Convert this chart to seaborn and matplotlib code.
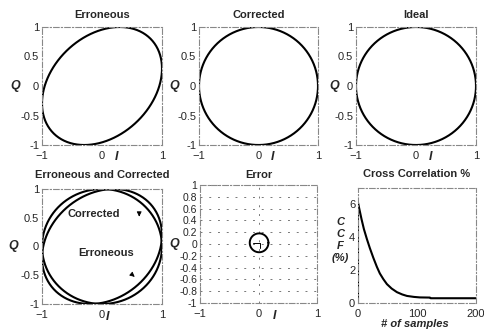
import numpy as np
import matplotlib
matplotlib.use('Agg')
import matplotlib.pyplot as plt
import seaborn as sns
from matplotlib.ticker import FormatStrFormatter

# values
phase_err_top = 0.30      # rad, erroneous constellation (top left)
phase_err_overlay = 0.20  # rad, erroneous trace in the overlay panel
err_radius = 0.16
err_center = [0.01, 0.02]

# small residual trace inside the error circle
err_trace_i = [-0.10, 0.03, 0.03]
err_trace_q = [0.02, 0.02, -0.07]

# cross correlation curve
ccf_samples = [0, 0, 3, 6, 10, 15, 20, 26, 32, 37, 43, 49, 57, 66, 75, 83, 95, 105, 122, 123, 150, 200]
ccf_pct = [0, 6.1, 5.6, 5.1, 4.5, 3.9, 3.35, 2.75, 2.2, 1.8, 1.45, 1.15, 0.88, 0.66, 0.52, 0.43,
           0.37, 0.34, 0.33, 0.29, 0.29, 0.29]

titles = ['Erroneous', 'Corrected', 'Ideal', 'Erroneous and Corrected', 'Error', 'Cross Correlation %']
iq_xticks = [-1, 0, 1]
iq_yticks = [-1, -0.5, 0, 0.5, 1]
err_yticks = [-1, -0.8, -0.6, -0.4, -0.2, 0, 0.2, 0.4, 0.6, 0.8, 1]
ccf_xticks = [0, 100, 200]
ccf_yticks = [0, 2, 4, 6]

sns.set_style('white')
plt.rcParams['font.family'] = ['Liberation Sans', 'DejaVu Sans']

t = np.linspace(0, 2 * np.pi, 400)

def iq(phase, r=1.0, c=(0, 0)):
    return c[0] + r * np.cos(t), c[1] + r * np.sin(t + phase)

def curve(ax, x, y, lw=1.5):
    sns.lineplot(x=x, y=y, sort=False, estimator=None, color='black', lw=lw, ax=ax)

def style(ax, title, pad):
    for s in ax.spines.values():
        s.set_linestyle((0, (5, 2, 1, 2)))
        s.set_color('#888888')
        s.set_linewidth(0.8)
    ax.tick_params(direction='in', length=2, width=0.6, labelsize=8, pad=2)
    ax.tick_params(axis='x', pad=4)
    ax.set_title(title, fontsize=8, fontweight='bold', pad=pad)

def iq_labels(ax, xq=-0.22, xi=0.62, yi=-0.1):
    ax.set_ylabel('Q', rotation=0, fontsize=9, fontweight='bold', fontstyle='italic', ha='center', va='center')
    ax.yaxis.set_label_coords(xq, 0.5)
    ax.set_xlabel('I', fontsize=9, fontweight='bold', fontstyle='italic', va='center')
    ax.xaxis.set_label_coords(xi, yi)

W, H = 484, 329
fig = plt.figure(figsize=(W / 100, H / 100), dpi=100)

def box(l, r, top, bot):
    return fig.add_axes([l / W, 1 - bot / H, (r - l) / W, (bot - top) / H])

ax1 = box(42, 162, 27, 145)
ax2 = box(199, 318, 27, 145)
ax3 = box(356, 476, 27, 145)
ax4 = box(42, 162, 189, 304)
ax5 = box(200, 317, 185, 303)
ax6 = box(358, 476, 188, 303)

# top row
for ax, ph, title, xq in [(ax1, phase_err_top, titles[0], -0.22), (ax2, 0.0, titles[1], -0.21),
                          (ax3, 0.0, titles[2], -0.18)]:
    x, y = iq(ph)
    curve(ax, x, y)
    ax.set_xlim(-1, 1)
    ax.set_ylim(-1, 1)
    ax.set_xticks(iq_xticks)
    ax.set_yticks(iq_yticks)
    ax.yaxis.set_major_formatter(FormatStrFormatter('%g'))
    style(ax, title, 6.5)
    iq_labels(ax, xq=xq)

# erroneous and corrected overlay
x, y = iq(0.0)
curve(ax4, x, y)
x, y = iq(phase_err_overlay)
curve(ax4, x, y)
ax4.set_xlim(-1, 1)
ax4.set_ylim(-1, 1)
ax4.set_xticks(iq_xticks)
ax4.set_yticks(iq_yticks)
ax4.yaxis.set_major_formatter(FormatStrFormatter('%g'))
style(ax4, titles[3], 8)
iq_labels(ax4, xq=-0.24, xi=0.55, yi=-0.11)
ax4.text(-0.57, 0.56, 'Corrected', fontsize=8, fontweight='bold', va='center')
ax4.text(-0.40, -0.11, 'Erroneous', fontsize=8, fontweight='bold', va='center')
ax4.annotate('', xy=(0.62, 0.52), xytext=(0.62, 0.60),
             arrowprops=dict(arrowstyle='-|>', color='black', lw=0.6, mutation_scale=7))
ax4.annotate('', xy=(0.58, -0.56), xytext=(0.48, -0.47),
             arrowprops=dict(arrowstyle='-|>', color='black', lw=0.6, mutation_scale=7))

# error
x, y = iq(0.0, r=err_radius, c=err_center)
curve(ax5, x, y, lw=1.4)
curve(ax5, err_trace_i, err_trace_q, lw=0.7)
ax5.set_xlim(-1, 1)
ax5.set_ylim(-1, 1)
ax5.set_xticks(iq_xticks)
ax5.set_yticks(err_yticks)
ax5.yaxis.set_major_formatter(FormatStrFormatter('%g'))
ax5.grid(True, linestyle=(0, (2, 7)), color='#777777', lw=0.7)
style(ax5, titles[4], 5)
ax5.tick_params(axis='y', labelsize=7.5)
iq_labels(ax5, xq=-0.22, xi=0.64, yi=-0.11)

# cross correlation
curve(ax6, ccf_samples, ccf_pct)
ax6.set_xlim(0, 200)
ax6.set_ylim(0, 7)
ax6.set_xticks(ccf_xticks)
ax6.set_yticks(ccf_yticks)
style(ax6, titles[5], 8)
ax6.set_ylabel('C\nC\nF\n(%)', rotation=0, fontsize=8, fontweight='bold', fontstyle='italic',
               ha='center', va='center', linespacing=1.25)
ax6.yaxis.set_label_coords(-0.15, 0.55)
ax6.set_xlabel('# of samples', fontsize=8, fontweight='bold', fontstyle='italic', va='center')
ax6.xaxis.set_label_coords(0.48, -0.18)

fig.savefig('out.png', dpi=100)
